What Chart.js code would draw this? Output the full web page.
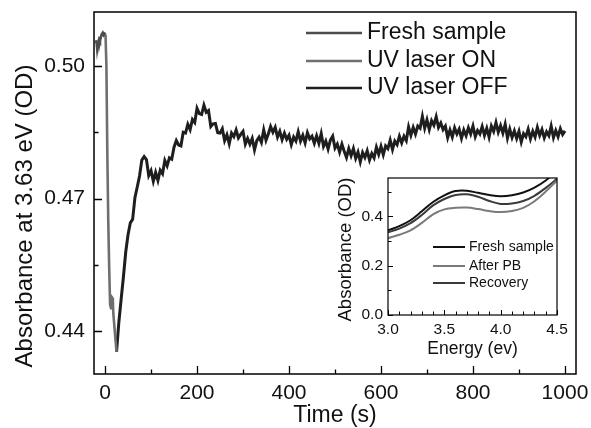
<!DOCTYPE html>
<html>
<head>
<meta charset="utf-8">
<script src="https://cdn.jsdelivr.net/npm/chart.js@4.4.1/dist/chart.umd.min.js"></script>
<style>
  html, body { margin: 0; padding: 0; background: #fff; }
  #wrap { position: relative; width: 591px; height: 428px; }
  #mainChart { position: absolute; left: 0; top: 0; }
  #insetChart { position: absolute; left: 330px; top: 170px; }
</style>
</head>
<body>
<div id="wrap">
  <canvas id="mainChart" width="591" height="428"></canvas>
  <canvas id="insetChart" width="240" height="195"></canvas>
</div>
<script>
// Main plot: absorbance at 3.63 eV vs time
const freshTime = [-20, -18, -17, -15, -13, -11, -9, -7, -5, -3, -1, 1];
const freshAbs = [0.5058, 0.5050, 0.5038, 0.5052, 0.5060, 0.5056, 0.5066, 0.5072, 0.5075, 0.5070, 0.5073, 0.5071];

const onTime = [1, 3, 5, 7, 9, 11, 13, 14, 16, 17, 18, 22, 25];
const onAbs = [0.5071, 0.5000, 0.4800, 0.4650, 0.4545, 0.4460, 0.4452, 0.4478, 0.4475, 0.4470, 0.4440, 0.4390, 0.4353];

const offTime = [
  25, 30, 35, 40, 45, 50, 55, 60, 65, 70, 75, 80, 85, 90, 95, 100, 105, 110, 115, 120,
  125, 130, 135, 140, 145, 150, 155, 160, 165, 170, 175, 180, 185, 190, 195, 200, 205, 210, 215, 220,
  225, 230, 235, 240, 245, 250, 255, 260, 265, 270, 275, 280, 285, 290, 295, 300, 305, 310, 315, 320,
  325, 330, 335, 340, 345, 350, 355, 360, 365, 370, 375, 380, 385, 390, 395, 400, 405, 410, 415, 420,
  425, 430, 435, 440, 445, 450, 455, 460, 465, 470, 475, 480, 485, 490, 495, 500, 505, 510, 515, 520,
  525, 530, 535, 540, 545, 550, 555, 560, 565, 570, 575, 580, 585, 590, 595, 600, 605, 610, 615, 620,
  625, 630, 635, 640, 645, 650, 655, 660, 665, 670, 675, 680, 685, 690, 695, 700, 705, 710, 715, 720,
  725, 730, 735, 740, 745, 750, 755, 760, 765, 770, 775, 780, 785, 790, 795, 800, 805, 810, 815, 820,
  825, 830, 835, 840, 845, 850, 855, 860, 865, 870, 875, 880, 885, 890, 895, 900, 905, 910, 915, 920,
  925, 930, 935, 940, 945, 950, 955, 960, 965, 970, 975, 980, 985, 990, 995, 1000
];
const offAbs = [
  0.4353, 0.4420, 0.4472, 0.4523, 0.4579, 0.4618, 0.4645, 0.4653, 0.4702, 0.4726, 0.4751, 0.4787, 0.4795, 0.4788, 0.4752, 0.4763, 0.4739, 0.4759, 0.4741, 0.4764,
  0.4756, 0.4786, 0.4774, 0.4792, 0.4789, 0.4816, 0.4831, 0.4821, 0.4819, 0.4850, 0.4848, 0.4868, 0.4856, 0.4879, 0.4872, 0.4904, 0.4892, 0.4890, 0.4911, 0.4895,
  0.4899, 0.4863, 0.4869, 0.4870, 0.4849, 0.4848, 0.4858, 0.4831, 0.4844, 0.4824, 0.4848, 0.4840, 0.4855, 0.4837, 0.4845, 0.4852, 0.4823, 0.4836, 0.4823, 0.4836,
  0.4810, 0.4831, 0.4839, 0.4827, 0.4855, 0.4832, 0.4846, 0.4863, 0.4850, 0.4861, 0.4839, 0.4852, 0.4833, 0.4848, 0.4834, 0.4843, 0.4822, 0.4839, 0.4830, 0.4851,
  0.4830, 0.4843, 0.4826, 0.4849, 0.4835, 0.4841, 0.4825, 0.4842, 0.4825, 0.4847, 0.4818, 0.4830, 0.4812, 0.4832, 0.4841, 0.4814, 0.4823, 0.4805, 0.4823, 0.4807,
  0.4793, 0.4813, 0.4797, 0.4813, 0.4791, 0.4805, 0.4783, 0.4804, 0.4793, 0.4808, 0.4787, 0.4802, 0.4792, 0.4816, 0.4800, 0.4818, 0.4799, 0.4819, 0.4813, 0.4832,
  0.4811, 0.4830, 0.4822, 0.4841, 0.4826, 0.4841, 0.4831, 0.4862, 0.4843, 0.4861, 0.4846, 0.4864, 0.4859, 0.4886, 0.4859, 0.4878, 0.4856, 0.4876, 0.4866, 0.4885,
  0.4861, 0.4871, 0.4856, 0.4864, 0.4838, 0.4855, 0.4839, 0.4860, 0.4846, 0.4857, 0.4836, 0.4855, 0.4842, 0.4860, 0.4846, 0.4864, 0.4840, 0.4854, 0.4846, 0.4863,
  0.4843, 0.4859, 0.4839, 0.4864, 0.4852, 0.4872, 0.4850, 0.4865, 0.4848, 0.4868, 0.4837, 0.4857, 0.4838, 0.4853, 0.4836, 0.4852, 0.4828, 0.4847, 0.4840, 0.4857,
  0.4835, 0.4852, 0.4839, 0.4861, 0.4843, 0.4856, 0.4837, 0.4851, 0.4842, 0.4864, 0.4838, 0.4854, 0.4840, 0.4858, 0.4845, 0.4853
];

const mainXTicks = [0, 200, 400, 600, 800, 1000];
const mainXMinor = [100, 300, 500, 700, 900];
const mainYTicks = [0.44, 0.47, 0.50];
const mainYMinor = [0.455, 0.485];
const mainLegend = ['Fresh sample', 'UV laser ON', 'UV laser OFF'];

// Inset: absorbance spectra
const energy = [3.0, 3.1, 3.2, 3.3, 3.4, 3.5, 3.6, 3.7, 3.8, 3.9, 4.0, 4.1, 4.2, 4.3, 4.4, 4.5];
const specFresh = [0.343, 0.360, 0.384, 0.420, 0.458, 0.485, 0.502, 0.503, 0.495, 0.486, 0.481, 0.485, 0.496, 0.516, 0.545, 0.585];
const specAfterPB = [0.311, 0.325, 0.343, 0.373, 0.408, 0.428, 0.434, 0.435, 0.429, 0.421, 0.417, 0.421, 0.434, 0.461, 0.500, 0.545];
const specRecovery = [0.335, 0.350, 0.372, 0.405, 0.444, 0.470, 0.486, 0.489, 0.479, 0.462, 0.450, 0.452, 0.462, 0.483, 0.515, 0.552];

const insetXTicks = [3.0, 3.5, 4.0, 4.5];
const insetXMinor = [3.1, 3.2, 3.3, 3.4, 3.6, 3.7, 3.8, 3.9, 4.1, 4.2, 4.3, 4.4];
const insetYTicks = [0.0, 0.2, 0.4];
const insetYMinor = [0.1, 0.3, 0.5];
const insetLegend = ['Fresh sample', 'After PB', 'Recovery'];

const FONT = '"Liberation Sans", Arial, Helvetica, sans-serif';

function pairs(xs, ys) {
    return xs.map((x, i) => ({ x: x, y: ys[i] }));
}

// keep the plot box where the reference has it (no extra room for edge labels)
function noPad(s) {
    s.paddingTop = 0;
    s.paddingBottom = 0;
    s.paddingLeft = 0;
    s.paddingRight = 0;
}

// frame, inward ticks, axis titles and legend drawn on top of the chart
function decorPlugin(cfg) {
    return {
        id: 'decor',
        afterDraw(chart) {
            const ctx = chart.ctx;
            const a = chart.chartArea;
            const xs = chart.scales.x, ys = chart.scales.y;
            ctx.save();
            ctx.strokeStyle = '#000';
            ctx.lineWidth = cfg.tickWidth;
            ctx.beginPath();
            cfg.xMajor.forEach(v => { const p = Math.round(xs.getPixelForValue(v)) + 0.5; ctx.moveTo(p, a.bottom); ctx.lineTo(p, a.bottom - cfg.majorLen); });
            cfg.xMinor.forEach(v => { const p = Math.round(xs.getPixelForValue(v)) + 0.5; ctx.moveTo(p, a.bottom); ctx.lineTo(p, a.bottom - cfg.minorLen); });
            cfg.yMajor.forEach(v => { const p = Math.round(ys.getPixelForValue(v)) + 0.5; ctx.moveTo(a.left, p); ctx.lineTo(a.left + cfg.majorLen, p); });
            cfg.yMinor.forEach(v => { const p = Math.round(ys.getPixelForValue(v)) + 0.5; ctx.moveTo(a.left, p); ctx.lineTo(a.left + cfg.minorLen, p); });
            ctx.stroke();

            ctx.lineWidth = cfg.frameWidth;
            ctx.strokeRect(a.left, a.top, a.right - a.left, a.bottom - a.top);

            // axis titles
            ctx.fillStyle = '#111';
            ctx.textAlign = 'center';
            ctx.textBaseline = 'alphabetic';
            ctx.font = cfg.titleFont;
            ctx.fillText(cfg.xTitle, cfg.xTitlePos[0], cfg.xTitlePos[1]);
            ctx.font = cfg.yTitleFont;
            ctx.save();
            ctx.translate(cfg.yTitlePos[0], cfg.yTitlePos[1]);
            ctx.rotate(-Math.PI / 2);
            ctx.fillText(cfg.yTitle, 0, 0);
            ctx.restore();

            // legend
            const lg = cfg.legend;
            ctx.font = lg.font;
            ctx.textAlign = 'left';
            ctx.textBaseline = 'middle';
            chart.data.datasets.forEach((ds, i) => {
                const y = lg.rows[i];
                ctx.strokeStyle = ds.borderColor;
                ctx.lineWidth = lg.lineWidth;
                ctx.beginPath();
                ctx.moveTo(lg.x0, y);
                ctx.lineTo(lg.x1, y);
                ctx.stroke();
                ctx.fillStyle = '#111';
                ctx.fillText(ds.label, lg.tx, y);
            });
            ctx.restore();
        }
    };
}

function initMainChart() {
    const ctx = document.getElementById('mainChart');
    new Chart(ctx.getContext('2d'), {
        type: 'line',
        data: {
            datasets: [
                { label: mainLegend[0], data: pairs(freshTime, freshAbs), borderColor: '#4d4d4d', borderWidth: 2.6 },
                { label: mainLegend[1], data: pairs(onTime, onAbs), borderColor: '#6f6f6f', borderWidth: 2.6 },
                { label: mainLegend[2], data: pairs(offTime, offAbs), borderColor: '#1e1e1e', borderWidth: 3 }
            ]
        },
        options: {
            responsive: false,
            animation: false,
            devicePixelRatio: 1,
            elements: { point: { radius: 0 }, line: { tension: 0 } },
            layout: { padding: { top: 12, right: 15, left: 0, bottom: 0 } },
            plugins: { legend: { display: false }, tooltip: { enabled: false } },
            scales: {
                x: {
                    type: 'linear',
                    min: -24,
                    max: 1024,
                    grid: { display: false, drawTicks: false },
                    border: { display: false },
                    afterBuildTicks: (s) => { s.ticks = mainXTicks.map(v => ({ value: v })); },
                    afterFit: (s) => { s.height = 54; noPad(s); },
                    ticks: { padding: 7, color: '#111', font: { family: FONT, size: 21 }, callback: v => String(v) }
                },
                y: {
                    type: 'linear',
                    min: 0.4303,
                    max: 0.5122,
                    grid: { display: false, drawTicks: false },
                    border: { display: false },
                    afterBuildTicks: (s) => { s.ticks = mainYTicks.map(v => ({ value: v })); },
                    afterFit: (s) => { s.width = 94; noPad(s); },
                    ticks: { padding: 9, color: '#111', font: { family: FONT, size: 21 }, callback: v => Number(v).toFixed(2) }
                }
            }
        },
        plugins: [decorPlugin({
            xMajor: mainXTicks, xMinor: mainXMinor, yMajor: mainYTicks, yMinor: mainYMinor,
            majorLen: 8, minorLen: 4.5, tickWidth: 1.3, frameWidth: 1.5,
            xTitle: 'Time (s)', xTitlePos: [335, 422], titleFont: '23px ' + FONT,
            yTitle: 'Absorbance at 3.63 eV (OD)', yTitlePos: [32, 216], yTitleFont: '24px ' + FONT,
            legend: { font: '23px ' + FONT, rows: [33, 61, 88], x0: 306, x1: 362, tx: 367, lineWidth: 2.5 }
        })]
    });
}

function initInsetChart() {
    const ctx = document.getElementById('insetChart');
    new Chart(ctx.getContext('2d'), {
        type: 'line',
        data: {
            datasets: [
                { label: insetLegend[0], data: pairs(energy, specFresh), borderColor: '#111111', borderWidth: 2 },
                { label: insetLegend[1], data: pairs(energy, specAfterPB), borderColor: '#7a7a7a', borderWidth: 2 },
                { label: insetLegend[2], data: pairs(energy, specRecovery), borderColor: '#3a3a3a', borderWidth: 2 }
            ]
        },
        options: {
            responsive: false,
            animation: false,
            devicePixelRatio: 1,
            elements: { point: { radius: 0 }, line: { tension: 0.35 } },
            layout: { padding: { top: 8, right: 13, left: 0, bottom: 0 } },
            plugins: { legend: { display: false }, tooltip: { enabled: false } },
            scales: {
                x: {
                    type: 'linear',
                    min: 3.0,
                    max: 4.5,
                    grid: { display: false, drawTicks: false },
                    border: { display: false },
                    afterBuildTicks: (s) => { s.ticks = insetXTicks.map(v => ({ value: v })); },
                    afterFit: (s) => { s.height = 50; noPad(s); },
                    ticks: { padding: 5, color: '#111', font: { family: FONT, size: 15.5 }, callback: v => Number(v).toFixed(1) }
                },
                y: {
                    type: 'linear',
                    min: 0,
                    max: 0.555,
                    grid: { display: false, drawTicks: false },
                    border: { display: false },
                    afterBuildTicks: (s) => { s.ticks = insetYTicks.map(v => ({ value: v })); },
                    afterFit: (s) => { s.width = 58; noPad(s); },
                    ticks: { padding: 5, color: '#111', font: { family: FONT, size: 15.5 }, callback: v => Number(v).toFixed(1) }
                }
            }
        },
        plugins: [decorPlugin({
            xMajor: insetXTicks, xMinor: insetXMinor, yMajor: insetYTicks, yMinor: insetYMinor,
            majorLen: 5, minorLen: 3.5, tickWidth: 1, frameWidth: 1.2,
            xTitle: 'Energy (ev)', xTitlePos: [142.5, 184], titleFont: '17.5px ' + FONT,
            yTitle: 'Absorbance (OD)', yTitlePos: [21, 79.5], yTitleFont: '18.5px ' + FONT,
            legend: { font: '14px ' + FONT, rows: [77, 96, 113], x0: 103, x1: 135, tx: 139, lineWidth: 2 }
        })]
    });
}

initMainChart();
initInsetChart();
</script>
</body>
</html>
